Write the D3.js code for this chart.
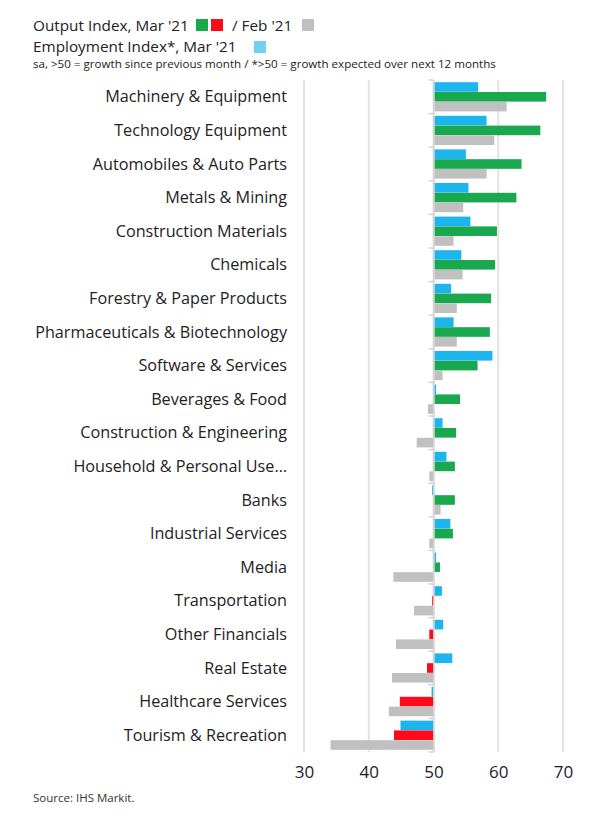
<!DOCTYPE html>
<html><head><meta charset="utf-8">
<script src="https://cdn.jsdelivr.net/npm/d3@7"></script>
<style>
html,body{margin:0;padding:0;background:#fff;}
svg text{font-family:"Open Sans",sans-serif;}
</style></head><body>
<svg id="chart" width="590" height="819"></svg>
<script>
const categories = ["Machinery & Equipment","Technology Equipment","Automobiles & Auto Parts","Metals & Mining","Construction Materials","Chemicals","Forestry & Paper Products","Pharmaceuticals & Biotechnology","Software & Services","Beverages & Food","Construction & Engineering","Household & Personal Use\u2026","Banks","Industrial Services","Media","Transportation","Other Financials","Real Estate","Healthcare Services","Tourism & Recreation"];
const employmentMar = [56.9,58.2,55.0,55.4,55.7,54.3,52.7,53.1,59.1,50.4,51.4,52.0,49.8,52.6,50.4,51.3,51.5,52.9,49.7,44.9];
const outputMar = [67.4,66.5,63.6,62.8,59.8,59.5,58.9,58.7,56.8,54.1,53.5,53.3,53.3,53.0,51.0,49.8,49.35,49.0,44.8,43.9];
const outputFeb = [61.3,59.4,58.2,54.6,53.1,54.5,53.6,53.6,51.4,49.15,47.4,49.35,51.1,49.35,43.8,47.0,44.2,43.6,43.1,34.1];
const xTicks = [30,40,50,60,70];

const C = {blue:"#1db5ee", green:"#1aa84f", red:"#fe0a1d", gray:"#c0c0c0", legBlue:"#72cff0"};
const svg = d3.select("#chart");

const x = d3.scaleLinear().domain([30,70]).range([304,563]);
const y = d3.scaleBand().domain(categories).range([80,752]).paddingInner(0).paddingOuter(0);
const sub = d3.scaleBand().domain(["emp","out","feb"]).range([2,y.bandwidth()-2]).padding(0.02);

// gridlines
svg.append("g").selectAll("line").data(xTicks).join("line")
  .attr("x1",d=>x(d)).attr("x2",d=>x(d)).attr("y1",80).attr("y2",752)
  .attr("stroke","#e3e3e3").attr("stroke-width",2);

// x axis labels
const xa = svg.append("g").attr("transform","translate(0,752)")
  .call(d3.axisBottom(x).tickValues(xTicks).tickSize(0).tickPadding(14));
xa.select(".domain").remove();
xa.selectAll("text").attr("font-size",17).attr("fill","#1a1a2e").attr("font-family","'Open Sans',sans-serif");

// bars
const rows = categories.map((c,i)=>({c, emp:employmentMar[i], out:outputMar[i], feb:outputFeb[i]}));
const g = svg.append("g");
rows.forEach(r=>{
  const top = y(r.c);
  [["emp",r.emp,C.blue],["out",r.out,r.out>=50?C.green:C.red],["feb",r.feb,C.gray]].forEach(([k,v,col])=>{
    g.append("rect")
      .attr("x",Math.min(x(50),x(v))).attr("width",Math.abs(x(v)-x(50)))
      .attr("y",top+sub(k)).attr("height",sub.bandwidth())
      .attr("fill",col);
  });
});

// category axis at 50
const ya = svg.append("g").attr("transform",`translate(${x(50)},0)`)
  .call(d3.axisLeft(y).tickSize(0).tickFormat(""));
ya.select(".domain").attr("stroke","#d8d8d8").attr("stroke-width",1.5);
svg.append("g").selectAll("line").data(d3.range(categories.length+1)).join("line")
  .attr("x1",x(50)-5).attr("x2",x(50)).attr("y1",i=>80+i*y.step()).attr("y2",i=>80+i*y.step())
  .attr("stroke","#d0d0d0").attr("stroke-width",1.5);

// category labels
svg.append("g").selectAll("text").data(categories).join("text")
  .attr("x",287).attr("y",d=>y(d)+y.bandwidth()/2).attr("dy","0.35em")
  .attr("text-anchor","end").attr("font-size",16.2).attr("fill","#222")
  .text(d=>d);

// header legend
const h = svg.append("g");
h.append("text").attr("x",33).attr("y",31).attr("font-size",15.3).attr("fill","#222").text("Output Index, Mar '21");
h.append("rect").attr("x",196).attr("y",19).attr("width",12).attr("height",12).attr("fill",C.green);
h.append("rect").attr("x",211).attr("y",19).attr("width",12).attr("height",12).attr("fill",C.red);
h.append("text").attr("x",232).attr("y",31).attr("font-size",15.3).attr("fill","#222").text("/ Feb '21");
h.append("rect").attr("x",302).attr("y",19).attr("width",12).attr("height",12).attr("fill",C.gray);
h.append("text").attr("x",33).attr("y",52).attr("font-size",15.3).attr("fill","#222").text("Employment Index*, Mar '21");
h.append("rect").attr("x",254).attr("y",41).attr("width",12).attr("height",12).attr("fill",C.legBlue);
h.append("text").attr("x",33).attr("y",68).attr("font-size",11.6).attr("fill","#222")
  .text("sa, >50 = growth since previous month / *>50 = growth expected over next 12 months");

svg.append("text").attr("x",33).attr("y",802).attr("font-size",11.5).attr("fill","#333").text("Source: IHS Markit.");
</script>
</body></html>
